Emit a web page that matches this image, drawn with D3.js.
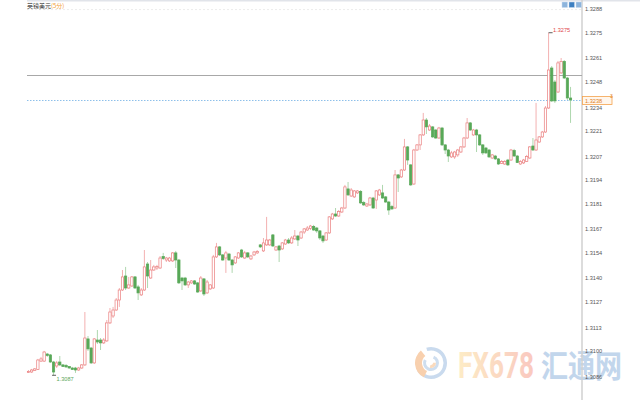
<!DOCTYPE html>
<html><head><meta charset="utf-8">
<script src="https://cdn.jsdelivr.net/npm/d3@7"></script>
<style>html,body{margin:0;padding:0;background:#fff;}svg{display:block;}</style>
</head><body>
<svg id="c" width="640" height="400"></svg>
<script>
const title = "英镑美元";
const period = "(5分)";
const tickLabels = ["1.3288","1.3275","1.3261","1.3248","1.3234","1.3221","1.3207","1.3194","1.3181","1.3167","1.3154","1.3140","1.3127","1.3113","1.3100","1.3086"];
const refPrice = 1.3252;
// [open, high, low, close], 5-minute candles
const candles = [
[1.30881,1.30895,1.30879,1.30887],[1.30884,1.30901,1.30879,1.30895],[1.30892,1.30906,1.30890,1.30901],[1.30898,1.30956,1.30895,1.30950],
[1.30944,1.30967,1.30939,1.30956],[1.30944,1.31000,1.30939,1.30994],[1.30983,1.30989,1.30967,1.30975],[1.30978,1.30983,1.30934,1.30939],
[1.30939,1.30945,1.30866,1.30884],[1.30917,1.30945,1.30906,1.30934],[1.30939,1.30972,1.30917,1.30923],[1.30923,1.30928,1.30912,1.30914],
[1.30920,1.30928,1.30906,1.30912],[1.30914,1.30917,1.30901,1.30906],[1.30906,1.30912,1.30895,1.30898],[1.30906,1.30912,1.30879,1.30895],
[1.30895,1.30912,1.30890,1.30906],[1.30906,1.30928,1.30901,1.30923],[1.30923,1.31214,1.30917,1.31071],[1.31066,1.31082,1.31000,1.31011],
[1.31016,1.31022,1.30928,1.30934],[1.30934,1.31071,1.30928,1.31066],[1.31060,1.31115,1.31038,1.31049],[1.31060,1.31071,1.31005,1.31044],
[1.31044,1.31071,1.31038,1.31060],[1.31055,1.31170,1.31049,1.31154],[1.31154,1.31236,1.31148,1.31214],[1.31192,1.31242,1.31181,1.31225],
[1.31225,1.31291,1.31220,1.31280],[1.31280,1.31346,1.31242,1.31335],[1.31335,1.31445,1.31330,1.31407],[1.31412,1.31462,1.31335,1.31346],
[1.31346,1.31407,1.31341,1.31363],[1.31357,1.31412,1.31352,1.31407],[1.31407,1.31412,1.31341,1.31346],[1.31352,1.31363,1.31280,1.31319],
[1.31308,1.31346,1.31302,1.31335],[1.31335,1.31555,1.31330,1.31462],[1.31478,1.31489,1.31346,1.31412],[1.31401,1.31500,1.31396,1.31445],
[1.31445,1.31473,1.31440,1.31462],[1.31456,1.31473,1.31445,1.31464],[1.31456,1.31522,1.31451,1.31511],[1.31519,1.31539,1.31500,1.31508],
[1.31500,1.31517,1.31489,1.31511],[1.31495,1.31517,1.31489,1.31511],[1.31495,1.31544,1.31489,1.31539],[1.31539,1.31550,1.31456,1.31500],
[1.31500,1.31506,1.31368,1.31374],[1.31401,1.31407,1.31335,1.31385],[1.31401,1.31407,1.31357,1.31363],[1.31363,1.31385,1.31346,1.31379],
[1.31374,1.31390,1.31368,1.31385],[1.31385,1.31390,1.31363,1.31368],[1.31374,1.31379,1.31319,1.31324],[1.31330,1.31412,1.31324,1.31401],
[1.31396,1.31401,1.31302,1.31313],[1.31319,1.31390,1.31313,1.31379],[1.31341,1.31368,1.31335,1.31363],[1.31346,1.31528,1.31341,1.31517],
[1.31517,1.31594,1.31511,1.31572],[1.31572,1.31577,1.31522,1.31528],[1.31528,1.31533,1.31495,1.31500],[1.31511,1.31550,1.31429,1.31539],
[1.31533,1.31539,1.31495,1.31500],[1.31500,1.31506,1.31429,1.31473],[1.31484,1.31522,1.31478,1.31517],[1.31511,1.31544,1.31506,1.31539],
[1.31555,1.31561,1.31511,1.31517],[1.31511,1.31550,1.31506,1.31539],[1.31539,1.31544,1.31511,1.31517],[1.31506,1.31528,1.31500,1.31522],
[1.31528,1.31550,1.31522,1.31544],[1.31539,1.31555,1.31533,1.31547],[1.31583,1.31588,1.31566,1.31572],[1.31550,1.31621,1.31544,1.31594],
[1.31583,1.31737,1.31577,1.31610],[1.31583,1.31616,1.31577,1.31610],[1.31638,1.31643,1.31572,1.31577],[1.31555,1.31577,1.31550,1.31572],
[1.31577,1.31583,1.31489,1.31555],[1.31561,1.31599,1.31555,1.31594],[1.31588,1.31616,1.31583,1.31610],[1.31610,1.31621,1.31588,1.31594],
[1.31594,1.31632,1.31588,1.31621],[1.31616,1.31665,1.31610,1.31632],[1.31632,1.31638,1.31577,1.31610],[1.31621,1.31660,1.31616,1.31654],
[1.31654,1.31676,1.31643,1.31671],[1.31665,1.31687,1.31660,1.31676],[1.31674,1.31693,1.31665,1.31687],[1.31685,1.31693,1.31660,1.31665],
[1.31676,1.31682,1.31649,1.31660],[1.31660,1.31665,1.31610,1.31621],[1.31632,1.31638,1.31594,1.31605],[1.31610,1.31654,1.31605,1.31649],
[1.31649,1.31742,1.31643,1.31737],[1.31726,1.31759,1.31720,1.31753],[1.31753,1.31786,1.31737,1.31742],[1.31742,1.31775,1.31737,1.31767],
[1.31764,1.31792,1.31759,1.31786],[1.31786,1.31913,1.31781,1.31902],[1.31891,1.31929,1.31852,1.31858],[1.31852,1.31896,1.31847,1.31885],
[1.31847,1.31885,1.31841,1.31880],[1.31869,1.31885,1.31863,1.31880],[1.31877,1.31885,1.31808,1.31814],[1.31816,1.31825,1.31797,1.31803],
[1.31797,1.31814,1.31792,1.31808],[1.31803,1.31847,1.31797,1.31841],[1.31841,1.31847,1.31781,1.31786],[1.31830,1.31885,1.31781,1.31880],
[1.31858,1.31891,1.31852,1.31885],[1.31869,1.31913,1.31836,1.31841],[1.31847,1.31852,1.31814,1.31819],[1.31819,1.31825,1.31748,1.31775],
[1.31794,1.31803,1.31775,1.31781],[1.31786,1.31995,1.31781,1.31968],[1.31968,1.31973,1.31874,1.31951],[1.31957,1.32001,1.31951,1.31995],
[1.31995,1.32166,1.31990,1.32122],[1.32122,1.32127,1.32023,1.32050],[1.32023,1.32028,1.31907,1.31913],[1.31918,1.32111,1.31913,1.32105],
[1.32105,1.32138,1.32100,1.32133],[1.32133,1.32193,1.32105,1.32188],[1.32188,1.32309,1.32182,1.32270],[1.32270,1.32281,1.32193,1.32232],
[1.32215,1.32248,1.32210,1.32237],[1.32232,1.32237,1.32171,1.32177],[1.32215,1.32221,1.32166,1.32171],[1.32171,1.32232,1.32166,1.32226],
[1.32226,1.32232,1.32127,1.32133],[1.32133,1.32138,1.32083,1.32105],[1.32105,1.32111,1.32039,1.32072],[1.32067,1.32100,1.32061,1.32089],
[1.32067,1.32100,1.32056,1.32094],[1.32078,1.32111,1.32067,1.32105],[1.32094,1.32127,1.32089,1.32122],[1.32122,1.32177,1.32116,1.32171],
[1.32171,1.32281,1.32166,1.32254],[1.32254,1.32259,1.32210,1.32215],[1.32188,1.32221,1.32182,1.32215],[1.32215,1.32221,1.32094,1.32188],
[1.32188,1.32193,1.32127,1.32133],[1.32133,1.32138,1.32078,1.32089],[1.32116,1.32122,1.32083,1.32089],[1.32105,1.32111,1.32061,1.32067],
[1.32061,1.32083,1.32056,1.32078],[1.32072,1.32078,1.32050,1.32056],[1.32056,1.32061,1.32023,1.32028],[1.32031,1.32050,1.32028,1.32042],
[1.32028,1.32050,1.32023,1.32042],[1.32050,1.32056,1.32017,1.32023],[1.32050,1.32111,1.32045,1.32105],[1.32102,1.32111,1.32067,1.32072],
[1.32072,1.32078,1.32034,1.32036],[1.32028,1.32050,1.32023,1.32042],[1.32034,1.32056,1.32028,1.32050],[1.32042,1.32078,1.32039,1.32069],
[1.32061,1.32127,1.32056,1.32122],[1.32127,1.32171,1.32100,1.32105],[1.32105,1.32364,1.32100,1.32160],[1.32149,1.32182,1.32144,1.32177],
[1.32177,1.32210,1.32171,1.32204],[1.32204,1.32347,1.32199,1.32336],[1.32336,1.32750,1.32331,1.32545],[1.32556,1.32567,1.32369,1.32375],
[1.32479,1.32490,1.32364,1.32375],[1.32424,1.32595,1.32419,1.32584],[1.32529,1.32611,1.32523,1.32592],[1.32592,1.32600,1.32496,1.32501],
[1.32501,1.32507,1.32380,1.32391],[1.32391,1.32452,1.32254,1.32380]
];

const W = 640, H = 400, axisX = 582;
const svg = d3.select("#c");
const x = d3.scaleBand().domain(d3.range(candles.length)).range([26.5, 572.5]).padding(0.26);
const y = d3.scaleLinear().domain([1.3073, 1.3293]).range([H, 0]);
const cx = i => x(i) + x.bandwidth() / 2;

// watermark
const defs = svg.append("defs");
const grad = defs.append("linearGradient").attr("id","fxg").attr("x1","0").attr("x2","1").attr("y1","0").attr("y2","0");
grad.append("stop").attr("offset","0").attr("stop-color","#fde8b8");
grad.append("stop").attr("offset","1").attr("stop-color","#f9bbb0");
const wm = svg.append("g").attr("opacity", 0.8);
const arc = d3.arc();
wm.append("path").attr("transform","translate(431,363)")
  .attr("d", arc({innerRadius:12.5, outerRadius:16, startAngle:-0.3, endAngle:4.2})).attr("fill","#bcd2ea");
wm.append("path").attr("transform","translate(431,363)")
  .attr("d", arc({innerRadius:9, outerRadius:16, startAngle:3.6, endAngle:5.6})).attr("fill","#f7c59a");
wm.append("path").attr("transform","translate(431,363)")
  .attr("d", arc({innerRadius:5, outerRadius:8, startAngle:0.4, endAngle:5.2})).attr("fill","#c3d6ec");
wm.append("path").attr("transform","translate(431,363)")
  .attr("d", arc({innerRadius:2, outerRadius:5, startAngle:1.5, endAngle:3.4})).attr("fill","#f9d2ad");
wm.append("text").attr("x",458).attr("y",378).attr("font-family","Roboto, 'DejaVu Sans'").attr("font-weight","bold")
  .attr("font-size",36).attr("textLength",76).attr("lengthAdjust","spacingAndGlyphs").attr("fill","url(#fxg)").text("FX678");
wm.append("text").attr("x",541).attr("y",377).attr("font-family","'Noto Sans CJK SC'").attr("font-weight","bold")
  .attr("font-size",31).attr("textLength",81).attr("lengthAdjust","spacingAndGlyphs").attr("fill","#b3cce8").text("汇通网");

// frame
svg.append("rect").attr("x",27).attr("y",0).attr("width",W-27).attr("height",1.5).attr("fill","#e1e4ea");
svg.append("line").attr("x1",27).attr("x2",axisX).attr("y1",y(+tickLabels[0])+0.5).attr("y2",y(+tickLabels[0])+0.5)
  .attr("stroke","#ececec").attr("stroke-dasharray","2,2");
svg.append("line").attr("x1",axisX).attr("x2",axisX).attr("y1",0).attr("y2",H).attr("stroke","#d0d0d0").attr("stroke-width",1.5);

// title
const t = svg.append("text").attr("x",27).attr("y",8).attr("font-family","'Noto Sans CJK SC'").attr("font-size",6);
t.append("tspan").attr("fill","#333").text(title);
t.append("tspan").attr("fill","#f39c33").text(period);

// toolbar icons
[0,1,2].forEach(k => {
  svg.append("rect").attr("x",562 + k*7).attr("y",2).attr("width",5.5).attr("height",5.5)
    .attr("fill", k===1 ? "#3d7fc1" : "#8db4dc").attr("stroke","#c9dbee").attr("stroke-width",0.5);
});

// axis
const ax = svg.append("g").attr("transform",`translate(${axisX},0)`)
  .call(d3.axisRight(y).tickValues(tickLabels.map(Number)).tickFormat(d3.format(".4f")).tickSize(0).tickPadding(3));
ax.select(".domain").remove();
ax.selectAll("text").attr("font-family","'Liberation Sans', Arial").attr("font-size",5.6).attr("fill","#555");

// reference lines
const last = candles[candles.length-1];
svg.append("line").attr("x1",27).attr("x2",axisX).attr("y1",Math.round(y(refPrice))+0.5).attr("y2",Math.round(y(refPrice))+0.5)
  .attr("stroke","#a8a8a8").attr("stroke-width",1);
svg.append("line").attr("x1",27).attr("x2",axisX).attr("y1",Math.round(y(last[3]))+0.5).attr("y2",Math.round(y(last[3]))+0.5)
  .attr("stroke","#8ec0ea").attr("stroke-width",1).attr("stroke-dasharray","1.5,1.5");

// candles
const g = svg.append("g");
const up = d => d[3] >= d[0];
g.selectAll("line.wick").data(candles).join("line").attr("class","wick")
  .attr("x1",(d,i)=>cx(i)).attr("x2",(d,i)=>cx(i))
  .attr("y1",d=>y(d[1])).attr("y2",d=>y(d[2]))
  .attr("stroke",d=>up(d)?"#f2a8a8":"#a6d3a6").attr("stroke-width",0.9);
g.selectAll("rect.body").data(candles).join("rect").attr("class","body")
  .attr("x",(d,i)=>x(i)).attr("width",x.bandwidth())
  .attr("y",d=>y(Math.max(d[0],d[3])))
  .attr("height",d=>Math.max(0.8, Math.abs(y(d[0])-y(d[3]))))
  .attr("fill",d=>up(d)?"#fff":"#58a858")
  .attr("stroke",d=>up(d)?"#ea7d7d":"#58a858").attr("stroke-width",0.7);

// high / low markers
const hiIdx = d3.maxIndex(candles, d=>d[1]);
const loIdx = d3.minIndex(candles, d=>d[2]);
const hi = candles[hiIdx][1], lo = candles[loIdx][2];
svg.append("line").attr("x1",cx(hiIdx)).attr("x2",cx(hiIdx)+4).attr("y1",y(hi)).attr("y2",y(hi)).attr("stroke","#333").attr("stroke-width",0.8);
svg.append("text").attr("x",cx(hiIdx)+4.5).attr("y",y(hi)-1).attr("font-family","'Liberation Sans', Arial").attr("font-size",5.6)
  .attr("fill","#e04848").text(hi.toFixed(4));
svg.append("line").attr("x1",cx(loIdx)-1.5).attr("x2",cx(loIdx)+2.5).attr("y1",y(lo)).attr("y2",y(lo)).attr("stroke","#333").attr("stroke-width",0.8);
svg.append("text").attr("x",cx(loIdx)+3).attr("y",y(lo)+6).attr("font-family","'Liberation Sans', Arial").attr("font-size",5.6)
  .attr("fill","#5aa65a").text(lo.toFixed(4));

// current price label
const ly = y(last[3]);
svg.append("rect").attr("x",axisX+0.5).attr("y",ly-3.5).attr("width",29.5).attr("height",8)
  .attr("fill","#fff6ec").attr("stroke","#f4a24c").attr("stroke-width",0.8);
svg.append("text").attr("x",axisX+3).attr("y",ly+2.5).attr("font-family","'Liberation Sans', Arial").attr("font-size",5.6)
  .attr("fill","#e0801e").text(last[3].toFixed(4));
svg.append("text").attr("x",axisX+28).attr("y",ly-2).attr("font-family","'Liberation Sans', Arial").attr("font-size",5)
  .attr("fill","#e0801e").text("3");
</script>
</body></html>
